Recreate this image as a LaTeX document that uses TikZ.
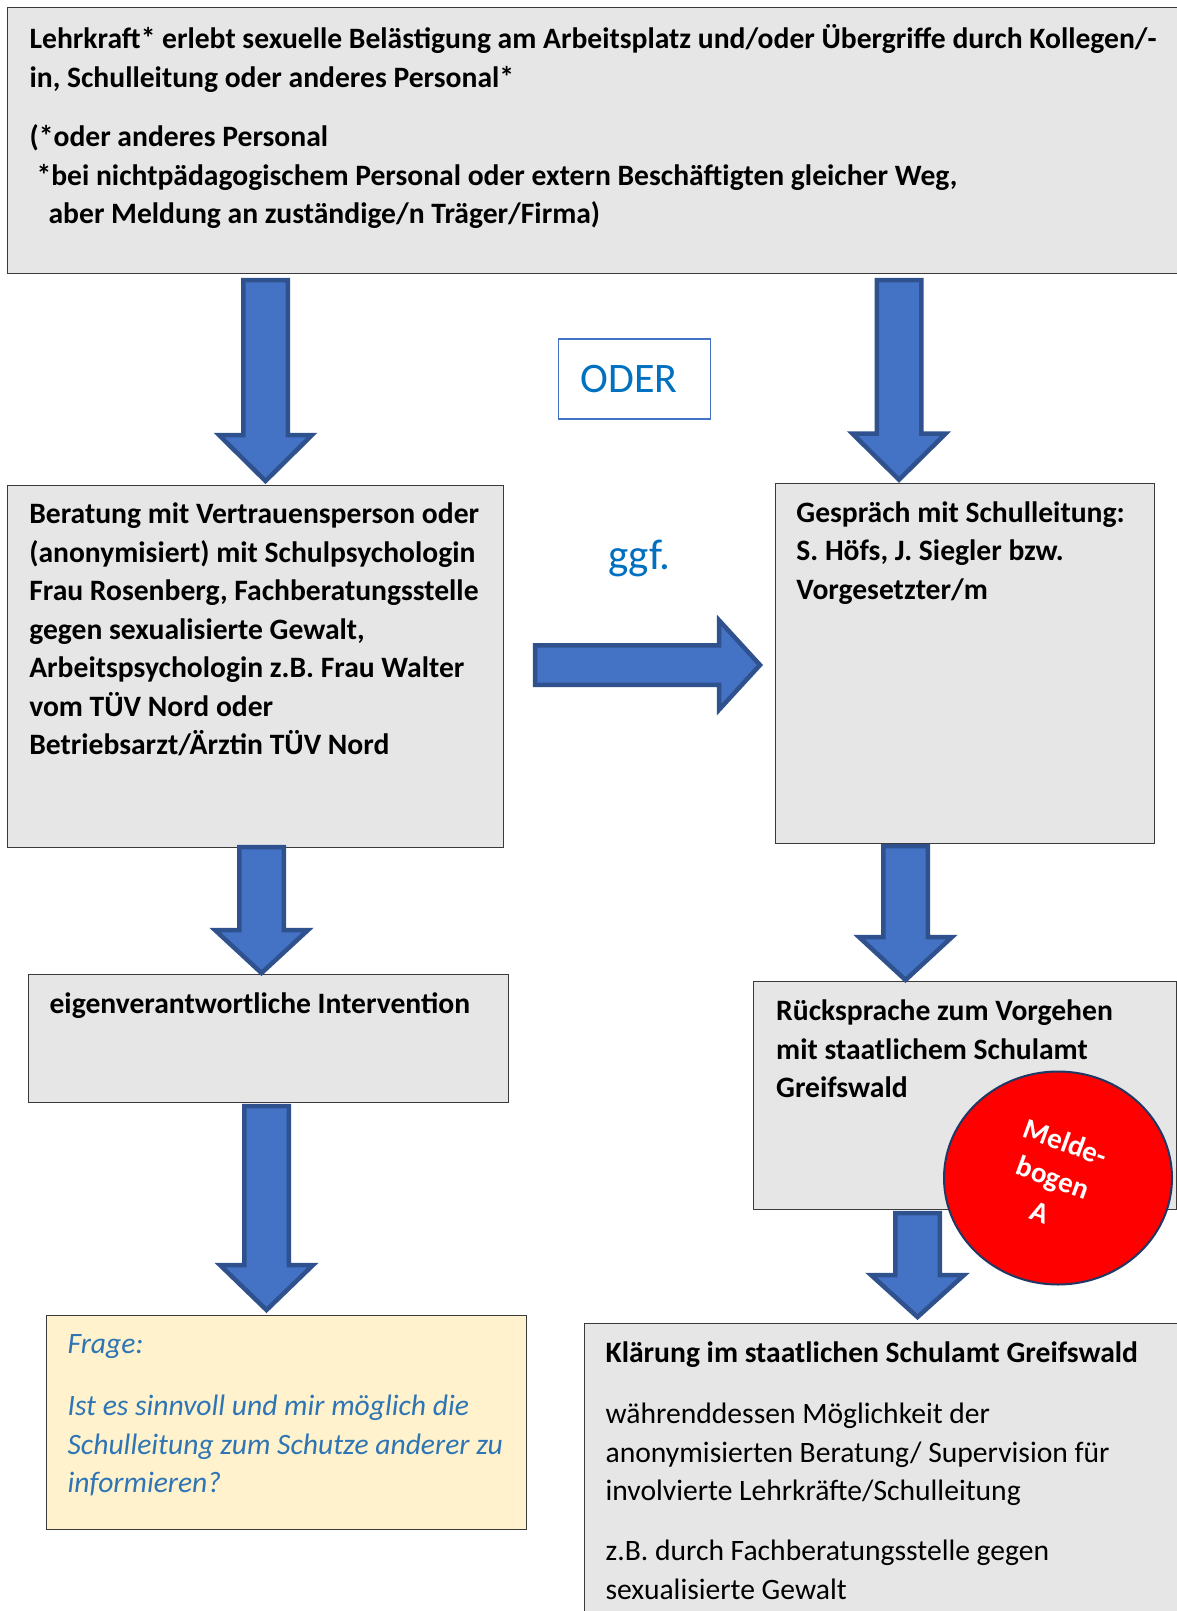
\documentclass[tikz,border=0pt]{standalone}
\usepackage{fontspec}
\setmainfont{Carlito}
\usetikzlibrary{calc,shapes.geometric}
\definecolor{boxfill}{HTML}{E6E6E6}
\definecolor{boxline}{HTML}{3A3A3A}
\definecolor{arrfill}{HTML}{4472C4}
\definecolor{arrline}{HTML}{2F528F}
\definecolor{oderblue}{HTML}{0070C0}
\definecolor{frfill}{HTML}{FFF2CC}
\definecolor{frtext}{HTML}{2E75B6}
\definecolor{navyline}{HTML}{1F3864}

% width, height, padL, padT, text
\newcommand\boxtxt[5]{%
  \begin{minipage}[t][#2pt][t]{#1pt}%
  \fontsize{29.6}{38.5}\selectfont
  \vspace*{#4pt}\leftskip=#3pt\rightskip=0pt plus 1fil\parindent=0pt\parskip=0pt
  \strut #5\par
  \end{minipage}}

% shaft half width, head half width, head length, start, tip
\newcommand\blockarrow[5]{%
  \coordinate (ba-h) at ($(#5)!#3pt!(#4)$);
  \draw[barrow] ($(#4)!#1pt!90:(#5)$) -- ($(ba-h)!#1pt!90:(#5)$) -- ($(ba-h)!#2pt!90:(#5)$) -- (#5)
     -- ($(ba-h)!#2pt!-90:(#5)$) -- ($(ba-h)!#1pt!-90:(#5)$) -- ($(#4)!#1pt!-90:(#5)$) -- cycle;}

\tikzset{
  box/.style={draw=boxline, line width=1.2pt, fill=boxfill, inner sep=0pt, anchor=north west},
  barrow/.style={fill=arrfill, draw=arrline, line width=4.5pt, miter limit=10},
  oderbox/.style={draw=arrfill, line width=1.2pt, fill=white, inner ysep=0pt, inner xsep=0pt,
    anchor=north west, minimum width=152.3pt, minimum height=80pt, text width=152.3pt, align=left,
    text=oderblue, font=\fontsize{42}{48}\selectfont},
}

\begin{document}
\begin{tikzpicture}[x=1pt, y=-1pt]
\useasboundingbox (0,0) rectangle (1177,1611);
\fill[white] (0,0) rectangle (1177,1611);
\clip (0,0) rectangle (1177,1611);

% boxes
\node[box] (top) at (7.2,7.2) {\boxtxt{1200}{265.8}{21.8}{13.8}{\bfseries
Lehrkraft* erlebt sexuelle Belästigung am Arbeitsplatz und/oder Übergriffe durch Kollegen/-\\
in, Schulleitung oder anderes Personal*\par\vspace{21pt}
(*oder anderes Personal\\
\hspace*{7pt}*bei nichtpädagogischem Personal oder extern Beschäftigten gleicher Weg,\\
\hspace*{19pt}aber Meldung an zuständige/n Träger/Firma)}};

\node[box] (bera) at (7,485) {\boxtxt{496}{362}{21.7}{11.3}{\bfseries
Beratung mit Vertrauensperson oder\\
(anonymisiert) mit Schulpsychologin\\
Frau Rosenberg, Fachberatungsstelle\\
gegen sexualisierte Gewalt,\\
Arbeitspsychologin z.B. Frau Walter\\
vom TÜV Nord oder\\
Betriebsarzt/Ärztin TÜV Nord}};

\node[box] (gesp) at (774.6,482.7) {\boxtxt{379.4}{360.3}{21.2}{12}{\bfseries
Gespräch mit Schulleitung:\\
S. Höfs, J. Siegler bzw.\\
Vorgesetzter/m}};

\node[box] (eigen) at (27.5,974) {\boxtxt{480.5}{128}{21.5}{12}{\bfseries
eigenverantwortliche Intervention}};

\node[box] (rueck) at (753,981) {\boxtxt{423}{228}{22.6}{12}{\bfseries
Rücksprache zum Vorgehen\\
mit staatlichem Schulamt\\
Greifswald}};

\node[box, fill=frfill] (frage) at (46,1315) {\boxtxt{480}{214}{21}{11}{\itshape\color{frtext}
Frage:\par\vspace{23.5pt}
Ist es sinnvoll und mir möglich die\\
Schulleitung zum Schutze anderer zu\\
informieren?}};

\node[box] (klaer) at (583.6,1322.7) {\boxtxt{620}{310}{21.4}{12}{{\bfseries
Klärung im staatlichen Schulamt Greifswald}\par\vspace{22.8pt}
währenddessen Möglichkeit der\\
anonymisierten Beratung/ Supervision für\\
involvierte Lehrkräfte/Schulleitung\par\vspace{21.5pt}
z.B. durch Fachberatungsstelle gegen\\
sexualisierte Gewalt}};

% labels
\node[oderbox] (oder) at (557.7,338.3) {\hspace*{22.3pt}ODER};
\node[anchor=base west, inner sep=0pt, text=oderblue, font=\fontsize{43}{48}\selectfont] (ggf) at (608,569) {ggf.};

% helper positions
\coordinate (xA1) at (265.5,0);
\coordinate (xA2) at (899,0);
\coordinate (yA3) at (0,665);
\coordinate (xA4) at (261.5,0);
\coordinate (xA5) at (266.5,0);
\coordinate (xA6) at (905.5,0);
\coordinate (xA7) at (917.5,0);

\coordinate (a1s) at ($(top.south -| xA1)+(0,6)$);
\coordinate (a1e) at ($(bera.north -| xA1)+(0,-4)$);
\coordinate (a2s) at ($(top.south -| xA2)+(0,6)$);
\coordinate (a2e) at ($(gesp.north -| xA2)+(0,-3)$);
\coordinate (a3s) at ($(bera.east |- yA3)+(31,0)$);
\coordinate (a3e) at ($(gesp.west |- yA3)+(-14.6,0)$);
\coordinate (a4s) at ($(bera.south -| xA4)+(0,-1)$);
\coordinate (a4e) at ($(eigen.north -| xA4)+(0,-1)$);
\coordinate (a5s) at ($(eigen.south -| xA5)+(0,3)$);
\coordinate (a5e) at ($(frage.north -| xA5)+(0,-5)$);
\coordinate (a6s) at ($(gesp.south -| xA6)+(0,2)$);
\coordinate (a6e) at ($(rueck.north -| xA6)+(0,-1)$);
\coordinate (a7s) at ($(rueck.south -| xA7)+(0,3)$);
\coordinate (a7e) at ($(klaer.north -| xA7)+(0,-5.7)$);

\blockarrow{22.25}{46.5}{46}{a1s}{a1e}
\blockarrow{22.25}{46.5}{46}{a2s}{a2e}
\blockarrow{19.75}{44.75}{41}{a3s}{a3e}
\blockarrow{22.25}{46.5}{43}{a4s}{a4e}
\blockarrow{22.25}{46.5}{45}{a5s}{a5e}
\blockarrow{22.25}{46.5}{43}{a6s}{a6e}
\blockarrow{22.25}{46.5}{42}{a7s}{a7e}

% Meldebogen
\node[ellipse, minimum width=228pt, minimum height=213pt, fill=red, draw=navyline, line width=2pt] (melde) at (1058,1178) {};
\node[rotate=-20, text=white, align=center, inner sep=0pt, font=\bfseries\fontsize{29}{37.5}\selectfont] (meldetxt) at (1053,1177) {Melde-\\bogen\\A};
\end{tikzpicture}
\end{document}
